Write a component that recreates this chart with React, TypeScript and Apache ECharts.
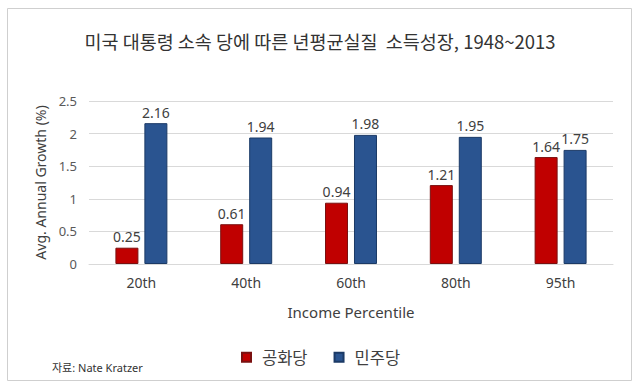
import React, { useEffect, useRef } from "react";
import * as echarts from "echarts";

const categories = ["20th", "40th", "60th", "80th", "95th"];
const republican = [0.25, 0.61, 0.94, 1.21, 1.64];
const democrat = [2.16, 1.94, 1.98, 1.95, 1.75];
const seriesNames = ["공화당", "민주당"];

const FONT = "'Noto Sans', 'Noto Sans CJK KR', sans-serif";

export default function App() {
  const ref = useRef<HTMLDivElement>(null);
  useEffect(() => {
    const chart = echarts.init(ref.current!, null, { renderer: "svg" });
    const label = {
      show: true,
      position: "top" as const,
      distance: 4,
      color: "#404040",
      fontSize: 14,
      fontFamily: FONT,
    };
    chart.setOption({
      animation: false,
      backgroundColor: "#ffffff",
      textStyle: { fontFamily: FONT },
      title: {
        text: "미국 대통령 소속 당에 따른 년평균실질  소득성장, 1948~2013",
        left: "center",
        top: 27,
        textStyle: {
          fontSize: 18.5,
          fontWeight: "normal",
          color: "#333333",
          fontFamily: "'Noto Sans CJK KR', sans-serif",
        },
      },
      graphic: [
        {
          type: "rect",
          shape: { x: 7.5, y: 8.5, width: 624, height: 372 },
          style: { fill: "none", stroke: "#cfcfcf", lineWidth: 1 },
          silent: true,
        },
        {
          type: "text",
          left: 52,
          top: 362,
          style: {
            text: "자료: Nate Kratzer",
            fontSize: 11,
            fill: "#333333",
            fontFamily: FONT,
          },
        },
      ],
      legend: {
        data: seriesNames,
        left: 236,
        top: 344,
        icon: "rect",
        itemWidth: 9,
        itemHeight: 9,
        itemGap: 26,
        textStyle: {
          fontSize: 16.5,
          color: "#404040",
          padding: [0, 0, 0, 6],
          fontFamily: "'Noto Sans CJK KR', sans-serif",
        },
      },
      grid: { left: 89, right: 27, top: 101, bottom: 124 },
      xAxis: {
        type: "category",
        data: categories,
        name: "Income Percentile",
        nameLocation: "middle",
        nameGap: 40,
        nameTextStyle: { fontSize: 15, color: "#404040", fontFamily: FONT },
        axisLine: { lineStyle: { color: "#d9d9d9" } },
        axisTick: { show: false },
        axisLabel: { fontSize: 14, color: "#404040", margin: 11, fontFamily: FONT },
      },
      yAxis: {
        type: "value",
        min: 0,
        max: 2.5,
        interval: 0.5,
        name: "Avg. Annual Growth (%)",
        nameLocation: "middle",
        nameGap: 33,
        nameTextStyle: { fontSize: 14, color: "#404040", fontFamily: FONT },
        axisLine: { show: false },
        axisTick: { show: false },
        axisLabel: { fontSize: 13, color: "#595959", margin: 12, fontFamily: FONT },
        splitLine: { lineStyle: { color: "#d9d9d9" } },
      },
      series: [
        {
          name: seriesNames[0],
          type: "bar",
          data: republican,
          barWidth: 23,
          barGap: "26%",
          itemStyle: { color: "#c00000", borderColor: "#7a1010", borderWidth: 1 },
          label,
        },
        {
          name: seriesNames[1],
          type: "bar",
          data: democrat,
          barWidth: 23,
          barGap: "26%",
          itemStyle: { color: "#2a5490", borderColor: "#1b3a66", borderWidth: 1 },
          label,
        },
      ],
    });
    return () => chart.dispose();
  }, []);
  return (
    <div
      ref={ref}
      style={{ position: "fixed", left: 0, top: 0, width: 640, height: 388 }}
    />
  );
}
